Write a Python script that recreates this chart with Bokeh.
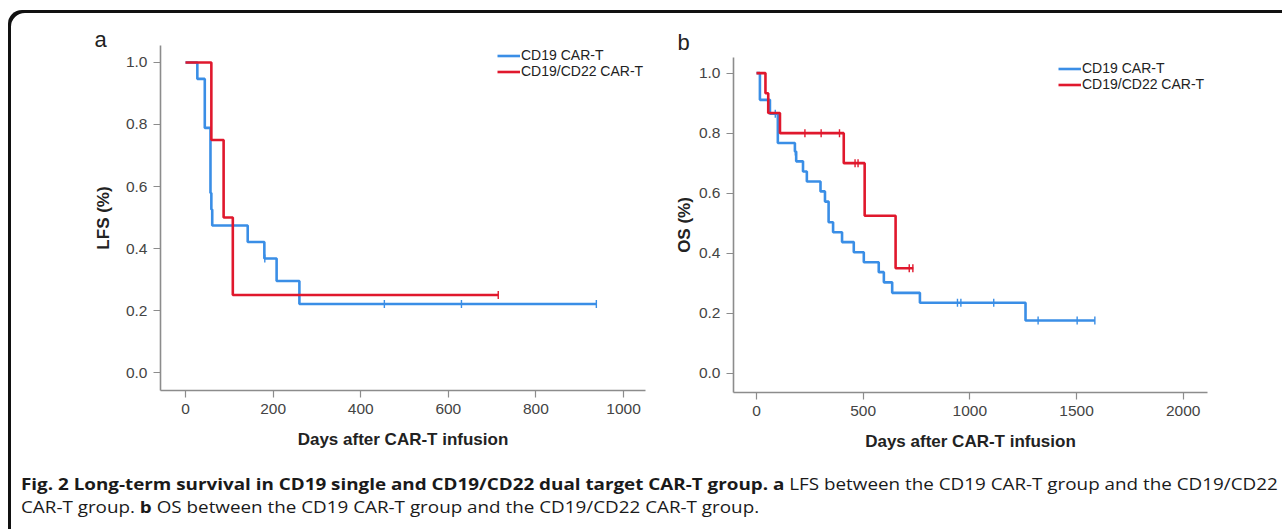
import numpy as np
from bokeh.plotting import figure
from bokeh.layouts import column, row
from bokeh.models import (Div, Legend, LegendItem, FixedTicker, Range1d, Spacer,
                          PrintfTickFormatter, ColumnDataSource)
from bokeh.embed import file_html
from bokeh.resources import INLINE

# ---------------- data ----------------
series_names = ["CD19 CAR-T", "CD19/CD22 CAR-T"]

# Panel a : LFS
lfs_cd19_t = [0, 27, 44, 57, 59, 61, 142, 180, 208, 260, 938]
lfs_cd19_s = [1.0, 0.947, 0.789, 0.579, 0.526, 0.474, 0.421, 0.368, 0.295, 0.221, 0.221]
lfs_cd19_cens = [181, 454, 630, 938]

lfs_dual_t = [0, 59, 87, 108, 714]
lfs_dual_s = [1.0, 0.75, 0.50, 0.25, 0.25]
lfs_dual_cens = [714]

# Panel b : OS
os_cd19_t = [0, 16, 63, 100, 180, 186, 218, 236, 300, 321, 338, 359, 401, 456, 503,
             573, 597, 636, 766, 1261, 1586]
os_cd19_s = [1.0, 0.911, 0.865, 0.767, 0.739, 0.706, 0.672, 0.639, 0.606, 0.572, 0.503,
             0.470, 0.437, 0.403, 0.370, 0.337, 0.303, 0.268, 0.235, 0.176, 0.176]
os_cd19_cens = [88, 182, 942, 958, 1112, 1320, 1503, 1586]

os_dual_t = [0, 42, 55, 110, 409, 507, 652, 735]
os_dual_s = [1.0, 0.933, 0.867, 0.80, 0.70, 0.525, 0.35, 0.35]
os_dual_cens = [227, 303, 389, 462, 476, 716, 733]

lfs_xticks = [0, 200, 400, 600, 800, 1000]
os_xticks = [0, 500, 1000, 1500, 2000]
yticks = [0.0, 0.2, 0.4, 0.6, 0.8, 1.0]

caption_line1_bold = "Fig. 2 Long-term survival in CD19 single and CD19/CD22 dual target CAR-T group. a"
caption_line1_rest = " LFS between the CD19 CAR-T group and the CD19/CD22"
caption_line2_a = "CAR-T group. "
caption_line2_bold = "b"
caption_line2_rest = " OS between the CD19 CAR-T group and the CD19/CD22 CAR-T group."

BLUE = "#3a8ee6"
RED = "#e0182d"
AXIS = "#8c8c8c"
TICKTXT = "#444444"
FONT = "Liberation Sans"


def surv_at(times, surv, t):
    idx = np.searchsorted(np.asarray(times), t, side="right") - 1
    return float(np.asarray(surv)[max(idx, 0)])


def make_panel(width, height, xr, yr, borders, xticks, ylabel, letter, letter_offset,
               letter_standoff, curves, label_standoff_y, legend_loc):
    left, right, top, bottom = borders
    p = figure(width=width, height=height, x_range=Range1d(*xr), y_range=Range1d(*yr),
               output_backend="svg", toolbar_location=None, title=letter,
               min_border_left=left, min_border_right=right,
               min_border_top=top, min_border_bottom=bottom)
    p.frame_align = False
    p.background_fill_alpha = 0
    p.border_fill_alpha = 0
    p.outline_line_color = None
    p.grid.visible = False

    p.title.align = "left"
    p.title.offset = letter_offset
    p.title.standoff = letter_standoff
    p.title.text_font = FONT
    p.title.text_font_size = "22px"
    p.title.text_font_style = "normal"
    p.title.text_color = "#222222"

    for ax in (p.xaxis[0], p.yaxis[0]):
        ax.axis_line_color = AXIS
        ax.axis_line_width = 1.6
        ax.major_tick_line_color = AXIS
        ax.major_tick_line_width = 1.2
        ax.major_tick_in = 0
        ax.major_tick_out = 7
        ax.minor_tick_line_color = None
        ax.major_label_text_font = FONT
        ax.major_label_text_font_size = "15.5px"
        ax.major_label_text_color = TICKTXT
        ax.axis_label_text_font = FONT
        ax.axis_label_text_font_size = "17px"
        ax.axis_label_text_font_style = "bold"
        ax.axis_label_text_color = "#222222"

    p.xaxis.ticker = FixedTicker(ticks=xticks)
    p.yaxis.ticker = FixedTicker(ticks=yticks)
    p.xaxis.formatter = PrintfTickFormatter(format="%d")
    p.yaxis.formatter = PrintfTickFormatter(format="%.1f")
    p.xaxis.major_label_standoff = 6
    p.yaxis.major_label_standoff = 6
    p.xaxis.axis_label = "Days after CAR-T infusion"
    p.xaxis.axis_label_standoff = 13
    p.yaxis.axis_label = ylabel
    p.yaxis.axis_label_standoff = label_standoff_y

    items = []
    for name, (t, s, cens, color) in zip(series_names, curves):
        src = ColumnDataSource(dict(t=t, s=s))
        r = p.step("t", "s", source=src, mode="after", line_color=color, line_width=2.6)
        cy = [surv_at(t, s, c) for c in cens]
        p.scatter(cens, cy, marker="dash", angle=np.pi / 2, size=8,
                  line_color=color, line_width=1.4)
        items.append(LegendItem(label=name, renderers=[r]))

    legend = Legend(items=items, location=legend_loc, orientation="vertical",
                    border_line_alpha=0, background_fill_alpha=0,
                    margin=0, padding=0, spacing=0,
                    label_text_font=FONT, label_text_font_size="14px",
                    label_text_color="#222222",
                    label_height=13, glyph_height=13, glyph_width=23,
                    label_standoff=1)
    p.add_layout(legend)
    return p


# panel a: canvas page x 8..668, frame x 160..645, y 45..390
pa = make_panel(660, 447, (-57.1, 1050.2), (-0.058, 1.0548), (152, 23, 35, 67),
                lfs_xticks, "LFS (%)", "a", -66, -12,
                [(lfs_cd19_t, lfs_cd19_s, lfs_cd19_cens, BLUE),
                 (lfs_dual_t, lfs_dual_s, lfs_dual_cens, RED)],
                10, (337, 311))

# panel b: canvas page x 668..1282, frame x 733..1207, y 57..392
pb = make_panel(614, 447, (-107.8, 2114), (-0.064, 1.052), (65, 75, 47, 65),
                os_xticks, "OS (%)", "b", -56, 5,
                [(os_cd19_t, os_cd19_s, os_cd19_cens, BLUE),
                 (os_dual_t, os_dual_s, os_dual_cens, RED)],
                2, (325, 300))

line_style = ("transform:scaleX(1.122);transform-origin:0 0;white-space:nowrap;"
              "height:23px;line-height:23px;")
caption = Div(
    text=('<div style="font-family:\'Open Sans\';font-size:16.8px;'
          'color:#1a1a1a;padding:10px 0 0 8px;">'
          f'<div style="{line_style}"><b>{caption_line1_bold}</b>{caption_line1_rest}</div>'
          f'<div style="{line_style}">{caption_line2_a}<b>{caption_line2_bold}</b>{caption_line2_rest}</div>'
          '</div>'),
    width=1274, height=72)

inner = column(row(pa, pb), caption,
               styles={"box-shadow": "inset 3px 3px 0 0 #111111",
                       "border-top-left-radius": "14px"})

layout = column(Spacer(width=1282, height=10), row(Spacer(width=8, height=519), inner))

open("out.html", "w").write(file_html(layout, INLINE))
